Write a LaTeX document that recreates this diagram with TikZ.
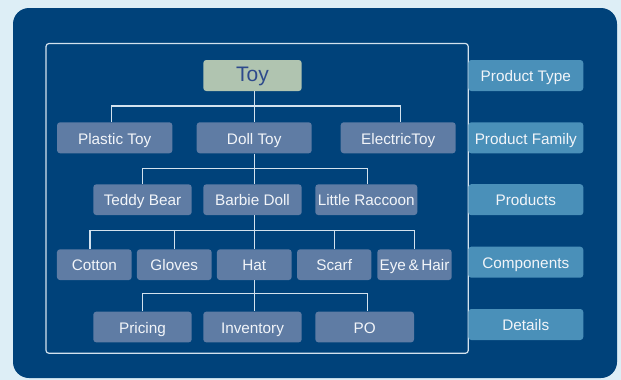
\documentclass[tikz,border=0pt]{standalone}
\usepackage{fontspec}
\setmainfont{Liberation Sans}
\definecolor{pagebg}{HTML}{DDEEF6}
\definecolor{panel}{HTML}{00427A}
\definecolor{boxfill}{HTML}{5F7CA4}
\definecolor{rootfill}{HTML}{B0C4B0}
\definecolor{roottext}{HTML}{2E4A8C}
\definecolor{tagfill}{HTML}{4A90B9}
\definecolor{wire}{HTML}{D3E2EE}
\definecolor{boxtext}{HTML}{F2F5F9}
\tikzset{
  box/.style={rectangle, rounded corners=3pt, fill=boxfill, text=boxtext,
    font=\fontsize{15.3}{17}\selectfont, inner sep=0pt, minimum height=30.7pt,
    text height=12.5pt, text depth=0pt},
  rootbox/.style={box, fill=rootfill, text=roottext,
    font=\fontsize{21}{23}\selectfont, minimum height=31pt,
    text height=14pt, text depth=3pt},
  tagbox/.style={box, fill=tagfill, minimum width=115pt, minimum height=31pt},
  wireline/.style={draw=wire, line width=1.1pt},
}
\begin{document}
\begin{tikzpicture}[x=1pt, y=-1pt]
  % page and panel
  \fill[pagebg] (0,0) rectangle (621,380);
  \useasboundingbox (0,0) rectangle (621,380);
  \fill[panel, rounded corners=16pt] (13,8) rectangle (617,378);
  \draw[wireline, line width=1.2pt, rounded corners=3pt] (46,43.5) rectangle (468.3,353.3);

  % level tags on the right
  \node[tagbox] (tType)   at (525.8,75.5)  {Product Type};
  \node[tagbox] (tFamily) at (525.8,137.8) {Product Family};
  \node[tagbox] (tProd)   at (525.8,199.7) {Products};
  \node[tagbox] (tComp)   at (525.8,262.2) {Components};
  \node[tagbox] (tDet)    at (525.8,324.5) {Details};

  % tree
  \node[rootbox, minimum width=98.4pt] (toy) at (252.5,75.5) {Toy};

  \node[box, minimum width=115.3pt, minimum height=31pt] (plastic)  at (114.7,137.8) {Plastic Toy};
  \node[box, minimum width=115pt,   minimum height=31pt] (doll)     at (254.2,137.8) {Doll Toy};
  \node[box, minimum width=115pt,   minimum height=31pt] (electric) at (398.2,137.8) {ElectricToy};

  \node[box, minimum width=98.4pt] (teddy)   at (142.5,199.7) {Teddy Bear};
  \node[box, minimum width=98.4pt] (barbie)  at (252.5,199.7) {Barbie Doll};
  \node[box, minimum width=102pt]  (raccoon) at (366.3,199.7) {Little Raccoon};

  \node[box, minimum width=74.7pt] (cotton)  at (94.3,264.7)  {Cotton};
  \node[box, minimum width=74.7pt] (gloves)  at (174.3,264.7) {Gloves};
  \node[box, minimum width=74.7pt] (hat)     at (254.3,264.7) {Hat};
  \node[box, minimum width=74.3pt] (scarf)   at (334.2,264.7) {Scarf};
  \node[box, minimum width=74.4pt] (eyehair) at (414.5,264.7) {Eye\,\&\,Hair};

  \node[box, minimum width=98.4pt] (pricing)   at (142.5,327) {Pricing};
  \node[box, minimum width=98.4pt] (inventory) at (252.5,327) {Inventory};
  \node[box, minimum width=98.7pt] (po)        at (364.7,327) {PO};

  % bus levels
  \coordinate (busA) at (0,106);
  \coordinate (busB) at (0,168.3);
  \coordinate (busC) at (0,230.7);
  \coordinate (busD) at (0,293.3);

  % Toy -> families
  \draw[wireline] (toy.south -| doll.north) -- (doll.north);
  \draw[wireline] ([xshift=-3.4pt]plastic.north) -- ([xshift=-3.4pt]plastic.north |- busA)
                  -- ([xshift=2.5pt]electric.north |- busA) -- ([xshift=2.5pt]electric.north);

  % Doll Toy -> products
  \draw[wireline] (doll.south) -- (doll.south |- barbie.north);
  \draw[wireline] (teddy.north) -- (teddy.north |- busB)
                  -- ([xshift=1pt]raccoon.north |- busB) -- ([xshift=1pt]raccoon.north);

  % Barbie Doll -> components
  \draw[wireline] (barbie.south -| hat.north) -- (hat.north);
  \draw[wireline] ([xshift=-4.3pt]cotton.north) -- ([xshift=-4.3pt]cotton.north |- busC)
                  -- (eyehair.north |- busC) -- (eyehair.north);
  \draw[wireline] (gloves.north) -- (gloves.north |- busC);
  \draw[wireline] (scarf.north) -- (scarf.north |- busC);

  % Hat -> details
  \draw[wireline] (hat.south) -- (hat.south |- inventory.north);
  \draw[wireline] (pricing.north) -- (pricing.north |- busD)
                  -- ([xshift=2.6pt]po.north |- busD) -- ([xshift=2.6pt]po.north);
\end{tikzpicture}
\end{document}
